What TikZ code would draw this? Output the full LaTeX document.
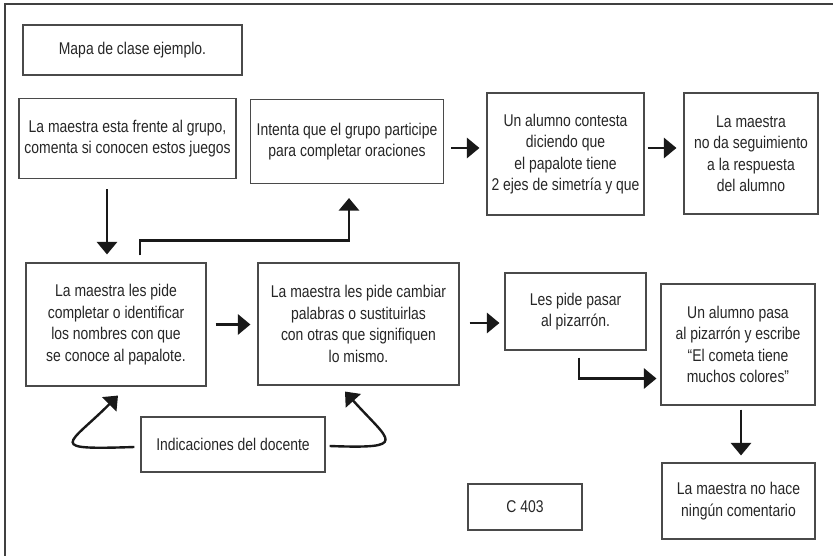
\documentclass[tikz,border=0pt]{standalone}
\usepackage{fontspec}
\setmainfont{Liberation Sans}[FakeStretch=0.82]
\usepackage{tikz}
\usetikzlibrary{arrows.meta,positioning,calc}

\definecolor{inkgray}{HTML}{262626}
\definecolor{edgegray}{HTML}{4A4A4A}

\tikzset{
    box/.style={draw=edgegray, line width=1.1pt, align=center, inner sep=0pt,
        text=inkgray, font=\fontsize{17}{21.5}\selectfont},
    arr/.style={line width=2.8pt, draw=black!90,
        -{Triangle[length=12.5pt,width=20pt]}},
    frame/.style={draw=black!75, line width=1.3pt}
}

\begin{document}
\begin{tikzpicture}[x=1pt,y=-1pt]
    \useasboundingbox (0,0) rectangle (833,556);

    % Outer frame
    \draw[frame] (5,556) -- (5,4) -- (833,4);

    % Top row
    \node[box, minimum width=219pt, minimum height=50pt] (mapa) at (132.5,50) {Mapa de clase ejemplo.};
    \node[box, minimum width=217pt, minimum height=80pt] (frente) at (127.5,138.5) {La maestra esta frente al grupo,\\comenta si conocen estos juegos};
    \node[box, minimum width=193pt, minimum height=84pt] (intenta) at (347,141.5) {Intenta que el grupo participe\\para completar oraciones};
    \node[box, minimum width=157pt, minimum height=122pt] (contesta) at (565.5,154) {Un alumno contesta\\diciendo que\\el papalote tiene\\2 ejes de simetría y que};
    \node[box, minimum width=134pt, minimum height=121pt] (seguim) at (751,153.5) {La maestra\\no da seguimiento\\a la respuesta\\del alumno};

    % Middle row
    \node[box, minimum width=180pt, minimum height=123pt] (completar) at (116,324.5) {La maestra les pide\\completar o identificar\\los nombres con que\\se conoce al papalote.};
    \node[box, minimum width=201pt, minimum height=122pt] (cambiar) at (358.5,324) {La maestra les pide cambiar\\palabras o sustituirlas\\con otras que signifiquen\\lo mismo.};
    \node[box, minimum width=141pt, minimum height=77pt] (pasar) at (575.5,311.5) {Les pide pasar\\al pizarrón.};
    \node[box, minimum width=154pt, minimum height=121pt] (escribe) at (738,344.5) {Un alumno pasa\\al pizarrón y escribe\\“El cometa tiene\\muchos colores”};

    % Bottom row
    \node[box, minimum width=184pt, minimum height=55pt] (indic) at (233,444.5) {Indicaciones del docente};
    \node[box, minimum width=114pt, minimum height=46pt] (clave) at (525,507) {C 403};
    \node[box, minimum width=153pt, minimum height=76pt] (nohace) at (738.5,501) {La maestra no hace\\ningún comentario};

    % Arrows of the top row
    \draw[arr, shorten <=7pt, shorten >=7pt] ([yshift=-6.5pt]intenta.east) -- ([yshift=-6.5pt]intenta.east -| contesta.west);
    \draw[arr, shorten <=3pt, shorten >=7pt] ([yshift=6pt]contesta.east) -- ([yshift=6pt]contesta.east -| seguim.west);

    % Down to the middle row and back up
    \draw[arr, shorten <=10pt, shorten >=8pt] ([xshift=-20.5pt]frente.south) -- ([xshift=-20.5pt]frente.south |- completar.north);
    \draw[arr] ([shift={(24pt,7pt)}]completar.north) -- ++(0,-15) -| ([shift={(2pt,-14pt)}]intenta.south);

    % Arrows of the middle row
    \draw[arr, shorten <=9pt, shorten >=7pt] (completar.east) -- (completar.east -| cambiar.west);
    \draw[arr, shorten <=10pt, shorten >=5pt] ([yshift=1pt]cambiar.east) -- ([yshift=1pt]cambiar.east -| pasar.west);
    \draw[arr] ([shift={(3.5pt,-7pt)}]pasar.south) |- ([shift={(-4pt,-34pt)}]escribe.west);
    \draw[arr, shorten <=4pt, shorten >=7pt] ([xshift=3pt]escribe.south) -- ([xshift=3pt]escribe.south |- nohace.north);

    % Feedback of the teacher
    \draw[arr, line width=2.4pt] ([shift={(-6pt,-2.5pt)}]indic.west) .. controls +(-90,3) and +(-50,50) .. ([shift={(2pt,-9pt)}]completar.south);
    \draw[arr, line width=2.4pt] ([shift={(4pt,-1.5pt)}]indic.east) .. controls +(81,3) and +(45,50) .. ([shift={(-13.5pt,-6pt)}]cambiar.south);
\end{tikzpicture}
\end{document}
